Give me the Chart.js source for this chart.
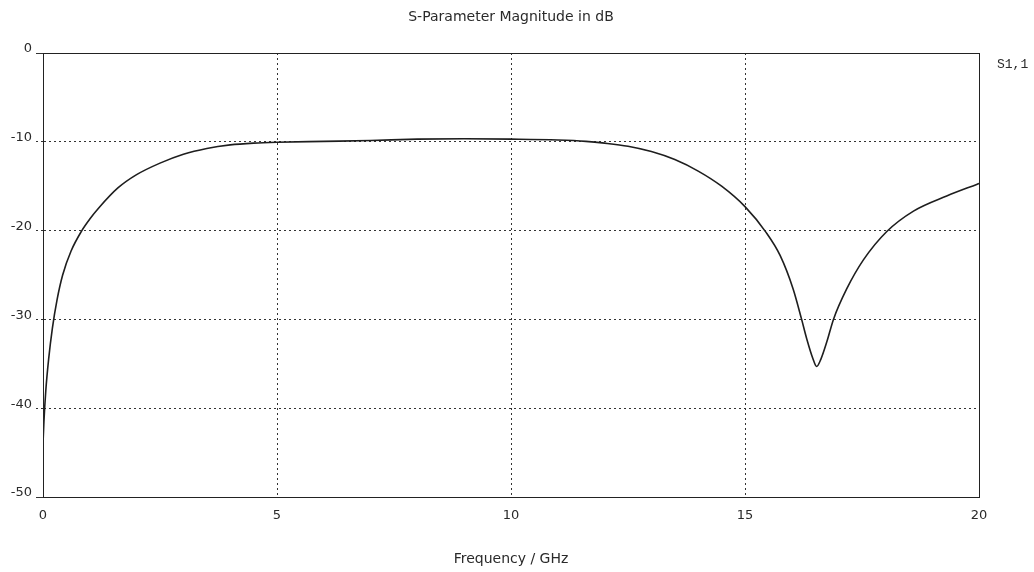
<!DOCTYPE html>
<html>
<head>
<meta charset="utf-8">
<script src="https://cdn.jsdelivr.net/npm/chart.js@4"></script>
<style>
  html, body { margin: 0; padding: 0; background: #fff; }
  canvas { display: block; }
</style>
</head>
<body>
<canvas id="sparam" width="1034" height="572"></canvas>
<script>
// S1,1 magnitude
const freqGHz = [0, 0.02, 0.06, 0.12, 0.2, 0.3, 0.42, 0.6, 0.83, 1.0, 1.2, 1.6, 2.0, 2.5, 3.0, 3.5, 4.0, 4.5, 5.0, 6.0, 7.0, 8.0, 9.0, 10.0, 11.0, 11.6, 12.0, 12.5, 13.0, 13.5, 14.0, 14.5, 15.0, 15.45, 15.75, 16.03, 16.21, 16.32, 16.45, 16.53, 16.62, 16.75, 16.89, 17.17, 17.53, 18.03, 18.6, 19.31, 19.95, 20];
const s11dB = [-44, -41.5, -38, -34.5, -31, -27.8, -25.0, -22.3, -20, -18.7, -17.4, -15.2, -13.7, -12.4, -11.4, -10.75, -10.35, -10.15, -10.05, -9.95, -9.85, -9.7, -9.65, -9.7, -9.8, -9.95, -10.15, -10.5, -11.1, -12.0, -13.3, -15.0, -17.3, -20.2, -22.8, -26.6, -30, -32.2, -34.4, -35.3, -34.5, -32.5, -30, -26.6, -23.3, -20.1, -17.8, -16.1, -14.8, -14.7];
const xTicks = [0, 5, 10, 15, 20];
const yTicks = [0, -10, -20, -30, -40, -50];

const textFont = 'DejaVu Sans';
const ink = '#2a2a2a';

// frame, title and trace label
const framePlugin = {
  id: 'frame',
  afterDraw(chart) {
    const { ctx, chartArea: a } = chart;
    ctx.save();
    ctx.strokeStyle = '#222';
    ctx.lineWidth = 1;
    ctx.setLineDash([]);
    ctx.strokeRect(a.left + 0.5, a.top + 0.5, a.right - a.left, a.bottom - a.top);
    ctx.fillStyle = ink;
    ctx.font = '14px ' + textFont;
    ctx.textAlign = 'center';
    ctx.textBaseline = 'middle';
    ctx.fillText('S-Parameter Magnitude in dB', 511, 17);
    ctx.font = '13px "Liberation Mono"';
    ctx.textAlign = 'left';
    ctx.fillText('S1,1', 997, 65);
    ctx.restore();
  }
};

new Chart(document.getElementById('sparam'), {
  type: 'line',
  data: {
    datasets: [{
      label: 'S1,1',
      data: freqGHz.map((f, i) => ({ x: f, y: s11dB[i] })),
      borderColor: '#1e1e1e',
      borderWidth: 1.6,
      pointRadius: 0,
      fill: false,
      cubicInterpolationMode: 'monotone'
    }]
  },
  options: {
    responsive: false,
    animation: false,
    layout: { padding: { top: 53, right: 55, left: 0, bottom: 0 } },
    plugins: { legend: { display: false }, title: { display: false }, tooltip: { enabled: false } },
    scales: {
      x: {
        type: 'linear',
        min: 0, max: 20,
        afterBuildTicks: s => { s.ticks = xTicks.map(v => ({ value: v })); },
        afterFit: s => { s.height = 75; },
        ticks: { color: ink, font: { family: textFont, size: 13 }, padding: 11, maxRotation: 0 },
        grid: {
          color: c => (c.tick && (c.tick.value === 0 || c.tick.value === 20)) ? 'rgba(0,0,0,0)' : '#333',
          drawTicks: false
        },
        border: { color: '#222', dash: [2, 3] },
        title: { display: true, text: 'Frequency / GHz', color: ink, font: { family: textFont, size: 14 }, padding: { top: 16 } }
      },
      y: {
        min: -50, max: 0,
        afterBuildTicks: s => { s.ticks = yTicks.map(v => ({ value: v })); },
        afterFit: s => { s.width = 43; },
        ticks: { color: ink, font: { family: textFont, size: 13 }, padding: 4, labelOffset: -4 },
        grid: {
          color: c => (c.tick && (c.tick.value === 0 || c.tick.value === -50)) ? 'rgba(0,0,0,0)' : '#333',
          tickColor: '#333',
          tickLength: 7,
          tickBorderDash: c => (c.tick && (c.tick.value === 0 || c.tick.value === -50)) ? [] : [2, 3]
        },
        border: { color: '#222', dash: [2, 3] }
      }
    }
  },
  plugins: [framePlugin]
});
</script>
</body>
</html>
